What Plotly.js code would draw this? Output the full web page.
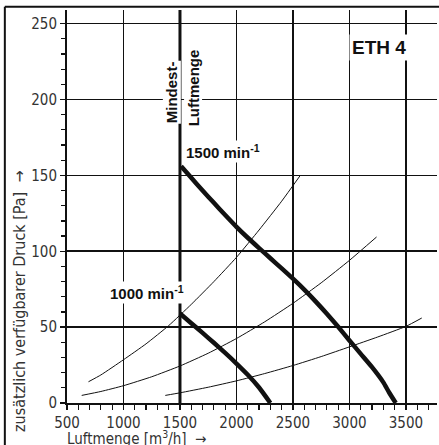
<!DOCTYPE html>
<html>
<head>
<meta charset="utf-8">
<script src="https://cdn.plot.ly/plotly-3.0.1.min.js"></script>
<style>html,body{margin:0;padding:0;background:#fff;}#chart{width:439px;height:445px;}</style>
</head>
<body>
<div id="chart"></div>
<script>
// Fan curves (thick)
var x1500 = [1510, 1600, 1700, 1800, 1900, 2000, 2100, 2200, 2300, 2400, 2500, 2600, 2700, 2800, 2900, 3000, 3100, 3200, 3300, 3350, 3410];
var y1500 = [156, 148.4, 140.1, 131.9, 123.9, 116.1, 108.9, 102.1, 95.4, 88.7, 81.9, 74.7, 67, 58.8, 50.2, 41.2, 32.4, 23.6, 13.6, 7.1, 0];
var x1000 = [1500, 1600, 1700, 1800, 1900, 2000, 2100, 2200, 2300];
var y1000 = [59, 52.6, 46.2, 39.7, 33.0, 26.0, 18.6, 10.2, 0];
// System curves (thin)
var xSysA = [690, 800, 1000, 1200, 1400, 1600, 1800, 2000, 2200, 2400, 2565];
var ySysA = [14, 18.5, 28.5, 39, 51, 65, 80, 96, 114, 133, 150];
var xSysB = [630, 800, 1000, 1250, 1500, 1750, 2000, 2250, 2500, 2750, 3000, 3240];
var ySysB = [5, 7.6, 11.4, 17.3, 24.4, 32.8, 42.5, 53.5, 65.7, 79.2, 94, 109.4];
var xSysC = [1370, 1500, 1750, 2000, 2250, 2500, 2750, 3000, 3250, 3500, 3640];
var ySysC = [5, 6.7, 10.4, 14.6, 19.4, 24.7, 30.6, 37, 43.5, 50.5, 56];
var xTicks = [500, 1000, 1500, 2000, 2500, 3000, 3500];
var yTicks = [0, 50, 100, 150, 200, 250];
var minAirflow = 1500;

var FONT = '"Liberation Sans Narrow", "DejaVu Sans Condensed", "Liberation Sans", sans-serif';
var BOLD = '"Liberation Sans", Arial, sans-serif';

function curve(x, y, w) {
  return {x: x, y: y, type: 'scatter', mode: 'lines',
          line: {color: '#111', width: w, shape: 'spline', smoothing: 0.5},
          hoverinfo: 'skip', showlegend: false, cliponaxis: false};
}

var traces = [
  curve(xSysA, ySysA, 1),
  curve(xSysB, ySysB, 1),
  curve(xSysC, ySysC, 1),
  curve(x1500, y1500, 4.5),
  curve(x1000, y1000, 4.5)
];

var layout = {
  width: 439, height: 445,
  margin: {l: 67, r: 2, t: 10, b: 42},
  paper_bgcolor: '#fff', plot_bgcolor: '#fff',
  showlegend: false,
  xaxis: {
    range: [500, 3775], tickvals: xTicks, ticktext: xTicks.map(String),
    showgrid: true, gridcolor: '#111', gridwidth: 1.6,
    showline: true, linecolor: '#111', linewidth: 2,
    ticks: 'outside', ticklen: 5, tickwidth: 1.5, tickcolor: '#111',
    minor: {dtick: 100, tick0: 500, ticks: 'outside', ticklen: 5, tickwidth: 1.2, tickcolor: '#111', showgrid: false},
    tickfont: {family: FONT, size: 15, color: '#333'},
    ticklabelstandoff: 0,
    zeroline: false, fixedrange: true
  },
  yaxis: {
    range: [0, 259], tickvals: yTicks, ticktext: yTicks.map(String),
    showgrid: true, gridcolor: '#111', gridwidth: 1.6,
    showline: true, linecolor: '#111', linewidth: 2,
    ticks: 'outside', ticklen: 5, tickwidth: 1.5, tickcolor: '#111',
    minor: {dtick: 10, tick0: 0, ticks: 'outside', ticklen: 4, tickwidth: 1.2, tickcolor: '#111', showgrid: false},
    tickfont: {family: FONT, size: 15, color: '#333'},
    zeroline: false, fixedrange: true
  },
  shapes: [
    {type: 'line', xref: 'paper', yref: 'paper', x0: -0.168, x1: -0.168, y0: -0.12, y1: 1.008, line: {color: '#111', width: 2}},
    {type: 'line', xref: 'paper', yref: 'paper', x0: -0.168, x1: 1.01, y0: 1.008, y1: 1.008, line: {color: '#111', width: 2}}
  ],
  annotations: [
    {text: '<b>ETH 4</b>', xref: 'paper', yref: 'paper', x: 0.842, y: 0.905, xanchor: 'center', yanchor: 'middle',
     showarrow: false, bgcolor: '#fff', borderpad: 2, font: {family: BOLD, size: 19, color: '#111'}},
    {text: '<b>1500 min<sup>-1</sup></b>', xref: 'x', yref: 'y', x: 1535, y: 166, xanchor: 'left', yanchor: 'middle',
     showarrow: false, bgcolor: '#fff', borderpad: 1, font: {family: BOLD, size: 15, color: '#111'}},
    {text: '<b>1000 min<sup>-1</sup></b>', xref: 'x', yref: 'y', x: 1212, y: 73, xanchor: 'center', yanchor: 'middle',
     showarrow: false, bgcolor: '#fff', borderpad: 1, font: {family: BOLD, size: 15, color: '#111'}},
    {text: '<b>Mindest-</b>', xref: 'x', yref: 'y', x: 1432, y: 205, textangle: -90, xanchor: 'center', yanchor: 'middle',
     showarrow: false, bgcolor: '#fff', borderpad: 0, font: {family: BOLD, size: 15, color: '#111'}},
    {text: '<b>Luftmenge</b>', xref: 'x', yref: 'y', x: 1615, y: 208, textangle: -90, xanchor: 'center', yanchor: 'middle',
     showarrow: false, bgcolor: '#fff', borderpad: 0, font: {family: BOLD, size: 15, color: '#111'}},
    {text: 'zusätzlich verfügbarer Druck [Pa]  →', xref: 'paper', yref: 'paper', x: -0.127, y: 0.257,
     textangle: -90, xanchor: 'center', yanchor: 'middle', showarrow: false,
     font: {family: FONT, size: 16, color: '#333'}},
    {text: 'Luftmenge [m<sup>3</sup>/h]  →', xref: 'paper', yref: 'paper', x: -0.005, y: -0.09,
     xanchor: 'left', yanchor: 'middle', showarrow: false,
     font: {family: FONT, size: 15, color: '#333'}}
  ]
};

Plotly.newPlot('chart', traces, layout, {staticPlot: true, displayModeBar: false}).then(function () {
  // Thick "Mindest-Luftmenge" line drawn on top of the annotations' backgrounds
  Plotly.relayout('chart', {shapes: layout.shapes.concat([
    {type: 'line', xref: 'x', yref: 'paper', x0: minAirflow, x1: minAirflow, y0: 0, y1: 1.0,
     layer: 'above', line: {color: '#111', width: 3}}
  ])});
});
</script>
</body>
</html>
